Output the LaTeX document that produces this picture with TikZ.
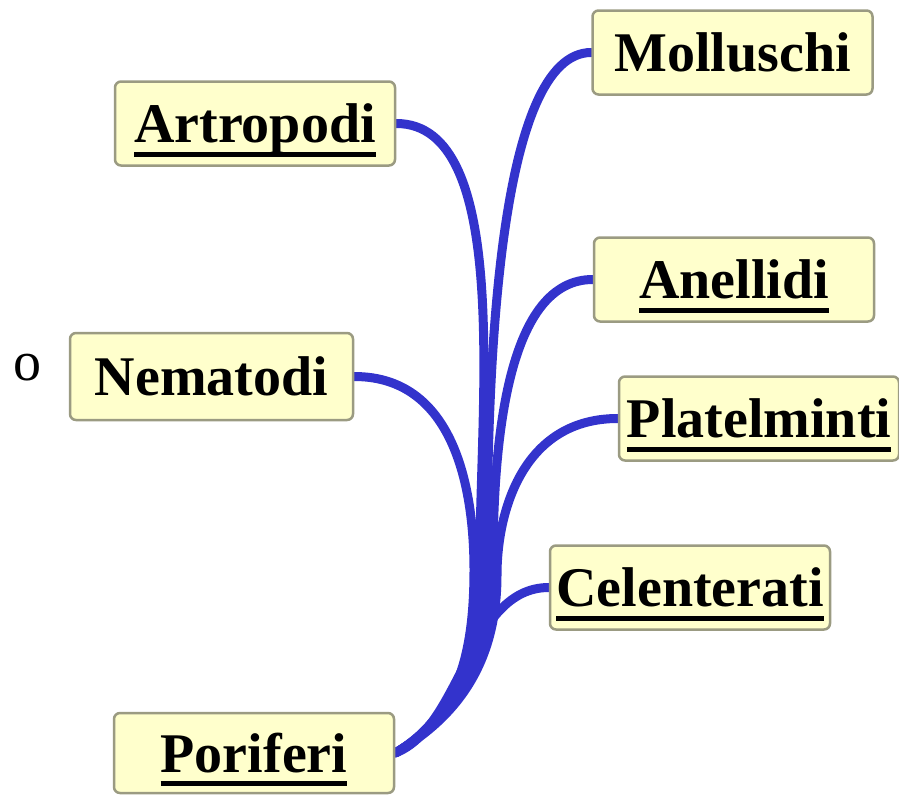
\documentclass[tikz,border=0pt]{standalone}
\usepackage{fontspec}
\setmainfont{Liberation Serif}
\usetikzlibrary{backgrounds}
\definecolor{linkblue}{HTML}{3333CC}
\definecolor{boxfill}{HTML}{FFFFCC}
\definecolor{boxline}{HTML}{9B9B82}
\newcommand\ulx[1]{\setbox0\hbox{#1}\rlap{\rule[-14pt]{\wd0}{5pt}}\box0}
\tikzset{
  concept/.style={draw=boxline, line width=2.5pt, fill=boxfill, rounded corners=6pt,
    minimum width=280pt, minimum height=84pt, inner sep=0pt,
    text height=43pt, text depth=5pt,
    font=\fontsize{56}{60}\selectfont\bfseries},
  link/.style={draw=linkblue, line width=9pt, line cap=round}
}
\begin{document}
\begin{tikzpicture}[x=1pt,y=-1pt]
\useasboundingbox (0,0) rectangle (899,795);
\node[concept] (mol) at (732.5,52.5) {Molluschi};
\node[concept] (art) at (255,123.5) {\ulx{Artropodi}};
\node[concept] (ane) at (734,279.5) {\ulx{Anellidi}};
\node[concept, minimum width=283pt, minimum height=87pt] (nem) at (211.5,376.5) {Nematodi};
\node[concept] (pla) at (759,418.5) {\ulx{Platelminti}};
\node[concept] (cel) at (690,587.5) {\ulx{Celenterati}};
\node[concept, minimum height=80pt] (por) at (254,753) {\ulx{Poriferi}};
\node[font=\fontsize{56}{60}\selectfont, inner sep=0pt] (o) at (27,368) {o};
\coordinate (jmol) at (487,560);
\coordinate (jart) at (480,555);
\coordinate (jane) at (493,565);
\coordinate (jnem) at (474,570);
\coordinate (jpla) at (497,575);
\begin{scope}[on background layer]
\draw[link] (por.east) .. controls +(60,-35) and +(0,90) .. (jmol)
  .. controls +(0,-200) and +(-92,0) .. (mol.west);
\draw[link] (por.east) .. controls +(60,-35) and +(0,90) .. (jart)
  .. controls +(0,-150) and +(115,0) .. (art.east);
\draw[link] (por.east) .. controls +(60,-35) and +(0,90) .. (jane)
  .. controls +(0,-130) and +(-84,0) .. (ane.west);
\draw[link] (por.east) .. controls +(60,-35) and +(0,90) .. (jnem)
  .. controls +(0,-70) and +(105,0) .. (nem.east);
\draw[link] (por.east) .. controls +(60,-35) and +(0,90) .. (jpla)
  .. controls +(0,-65) and +(-94,0) .. (pla.west);
\draw[link] (por.east) .. controls +(66,-25) and +(-80,0) .. (cel.west);
\end{scope}
\end{tikzpicture}
\end{document}
